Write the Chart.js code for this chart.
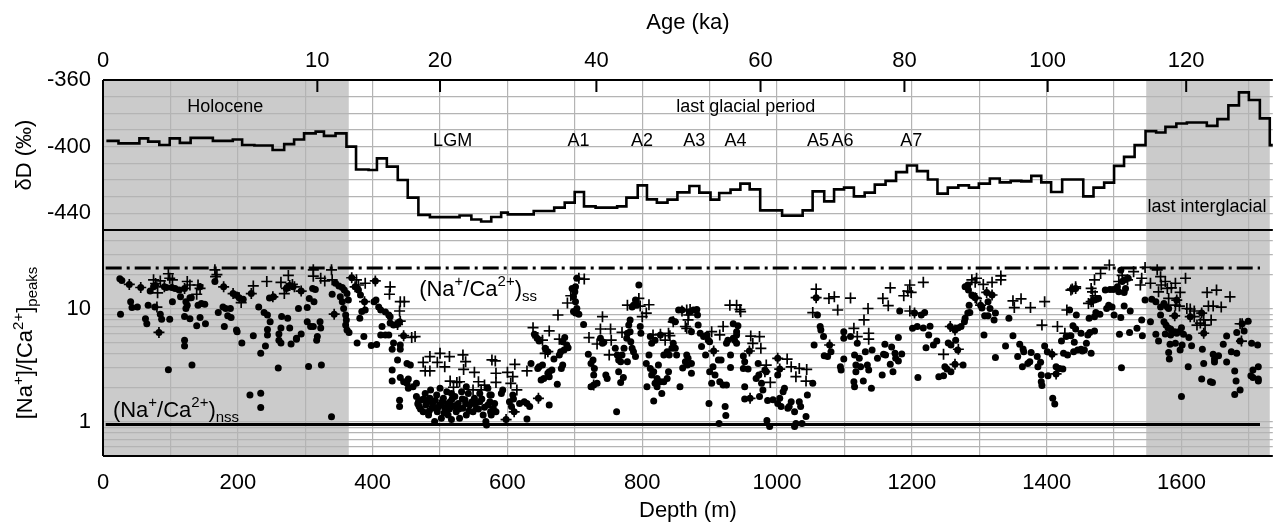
<!DOCTYPE html>
<html>
<head>
<meta charset="utf-8">
<title>δD and Na/Ca peak ratio versus depth</title>
<script src="https://cdn.jsdelivr.net/npm/chart.js"></script>
<style>
  html, body { margin: 0; padding: 0; background: #fff; }
  #wrap { width: 1280px; height: 525px; }
</style>
</head>
<body>
<div id="wrap"><canvas id="chart" width="1280" height="525"></canvas></div>
<script>
const FONT = '"Liberation Sans", Arial, Helvetica, sans-serif';

// depth axis (m)
const depthMin = 0, depthMax = 1735.5;
const depthTicks = [0, 100, 200, 300, 400, 500, 600, 700, 800, 900, 1000, 1100, 1200, 1300, 1400, 1500, 1600, 1700];
// age axis (ka) placed at the depth where each age falls
const ageLabels = [0, 10, 20, 40, 60, 80, 100, 120];
const ageDepths = [0, 318, 500, 732, 975.5, 1189, 1401.5, 1607];

const dDTicks = [-450, -440, -430, -420, -410, -400, -390, -380, -370, -360];
const ratioTicks = [0.5, 0.6, 0.7, 0.8, 0.9, 1, 2, 3, 4, 5, 6, 7, 8, 9, 10, 20, 30, 40, 50];

// interglacial shading (depth ranges)
const shadeRanges = [[0, 364.6], [1547.7, 1731]];

const periodLabels = [
  { text: 'Holocene', depth: 181.5, dD: -376.2 },
  { text: 'last glacial period', depth: 953.7, dD: -376.2 },
  { text: 'last interglacial', depth: 1638, dD: -436.4 }
];
const eventLabels = ['LGM', 'A1', 'A2', 'A3', 'A4', 'A5', 'A6', 'A7'];
const eventDepths = [518.7, 705.3, 799.7, 877.1, 938.3, 1060.6, 1097, 1199];
const eventDD = -396.7;

const ssRatio = 23, nssRatio = 0.95;
const refLineDepths = [4, 1716.5];

// δD (‰) steps: [start depth, value]
const deltaDSteps = [
  [5, -396.5], [23, -398], [54, -395], [67, -397], [83.5, -399], [99, -395], [114, -397.7], [130, -394.7],
  [163, -396.5], [192.6, -395.7], [206.4, -399], [224.6, -399.3], [251.6, -402], [268.8, -398.5], [283.5, -395.7],
  [298.3, -392], [315.5, -391], [327.8, -393.5], [345, -392], [361.2, -400], [375.4, -413.7], [394, -414],
  [406.4, -407], [421.1, -412], [437.3, -420], [452.1, -430.6], [467.9, -440.9], [485, -442.3], [529, -441.3],
  [546.5, -443.7], [561, -444.9], [576, -442.2], [590.7, -439.6], [600.6, -440.6], [639, -438.6], [669.4, -436.6],
  [685, -433.6], [699.8, -427.2], [713.6, -435.8], [730.8, -436.6], [762.8, -435.8], [776.5, -430.6], [793.3, -423.2],
  [807, -431.6], [821.7, -433.6], [837.5, -431.8], [852.2, -427.4], [870, -423.6], [884.7, -427.6], [901.3, -431.8],
  [914.2, -427.8], [931, -425.8], [945.6, -422.2], [959.4, -425.6], [975, -438.2], [1007.5, -441.4], [1038, -438.2],
  [1052.8, -426.8], [1070, -432.8], [1084.6, -425.6], [1099.4, -424.6], [1114, -429.8], [1130, -427.6], [1145, -422.8],
  [1161, -420.5], [1176.6, -415.3], [1192.8, -411.3], [1207.6, -414.7], [1223.8, -419.7], [1238, -428.2], [1253.3, -424.6],
  [1269, -423.2], [1284.7, -424.6], [1299.4, -422.2], [1315.7, -419.1], [1330.4, -421.4], [1346.6, -420.5], [1362.4, -420.8],
  [1377.2, -417.5], [1392, -421.4], [1406.6, -427.2], [1423, -419.7], [1454.3, -429.8], [1469.5, -424.6], [1485.3, -421.6],
  [1500, -411.5], [1514.8, -406.1], [1530.5, -399.1], [1546.7, -390.7], [1562.4, -391.5], [1576.2, -388.1], [1592.4, -386.1],
  [1608, -385.5], [1637.6, -387.5], [1653.3, -383.5], [1669.6, -375.2], [1685.3, -367.4], [1700, -372], [1716.3, -383],
  [1731, -399.1], [1736, -399.1]
];

// [Na+]/[Ca2+] peaks, dots: [depth, ratio]
const dotPoints = [
  [25,18.5],[28,17.9],[39,16.5],[26,9.0],[41,11.6],[43,10.3],[51,10.4],[56,15.5],[63,8.2],[65,7.4],[67,10.8],[70,14.4],
  [75,15.7],[78,16.1],[77,10.4],[85,9.0],[87,8.1],[83,6.2],[91,15.7],[94,15.5],[97,2.9],[99,8.1],[103,11.6],[102,15.5],
  [107,15.2],[113,14.7],[115,12.8],[121,15.2],[121,5.3],[121,4.7],[123,11.6],[125,10.8],[129,12.6],[131,12.6],[123,10.1],
  [121,8.6],[129,8.2],[132,3.2],[139,7.1],[141,10.8],[144,8.4],[146,11.2],[151,11],[144,15.7],[152,7.4],[166,17.5],
  [171,9.3],[179,15.7],[178,10.4],[182,10.1],[189,10.1],[180,7.0],[185,8.7],[190,8.4],[193,13.7],[198,13.3],[202,12.6],
  [198,6.5],[199,6.3],[206,5.0],[208,12.2],[218,1.73],[234,1.8],[234,1.34],[220,13.7],[223,5.8],[231,10.4],[234,4.05],
  [239,9.3],[244,8.85],[247,12.5],[241,4.7],[248,7.7],[244,6.6],[244,5.9],[253,12.8],[260,3.0],[261,6.0],[261,5.3],
  [264,5.0],[265,8.6],[264,6.8],[274,8.3],[277,6.8],[272,15.2],[277,16.1],[282,15.7],[279,4.9],[287,5.5],[290,10.1],
  [294,14.4],[303,10.3],[306,12.4],[313,11.6],[311,15.2],[315,14.9],[303,7.7],[308,7.0],[312,7.0],[322,7.7],[323,6.8],
  [318,5.7],[317,5.3],[294,6.0],[287,5.4],[305,3.1],[324,3.2],[339,1.11],[340,13.5],[343,9.0],[345,16.9],[350,16.0],
  [355,15.5],[358,14.7],[352,12.8],[355,11.6],[357,10.1],[360,8.85],[361,8.0],[360,7.2],[362,6.5],[365,6.2],[362,13.7],
  [364,12.0],[369,18.9],[374,15.7],[379,14.7],[382,13.3],[388,11.6],[389,9.8],[384,9.5],[381,8.3],[404,17.7],[402,11.6],
  [405,12.0],[409,10.4],[412,9.8],[387,5.7],[377,5.0],[398,4.75],[406,4.85],[414,7.0],[412,5.9],[419,5.9],[424,5.9],
  [419,9.4],[424,8.85],[426,8.55],[426,7.5],[431,7.2],[436,7.3],[440,7.7],[431,5.0],[429,4.4],[441,4.4],[441,4.8],
  [446,5.8],[437,3.54],[429,2.88],[429,2.3],[451,3.3],[456,3.19],[441,2.48],[446,2.27],[451,2.2],[453,2.4],[453,1.99],
  [440,1.56],[440,1.37],[460,2.05],[465,2.2],
  [465,1.68],[468,1.51],[469,1.37],[473,1.57],[475,1.23],[478,1.79],[479,1.41],[483,1.15],[485,1.62],[488,1.32],
  [490,1.51],[492,1.01],[495,1.73],[496,1.23],[500,1.41],[502,1.08],[505,1.62],[507,1.32],[510,1.85],[512,1.15],
  [515,1.51],[517,1.05],[519,1.37],[522,1.68],[524,1.23],[527,1.46],[529,1.08],[532,1.85],[534,1.32],[537,1.57],
  [539,1.15],[542,1.79],[544,1.41],[549,1.23],[551,1.62],[554,1.32],[559,1.51],[564,1.15],[568,1.01],[571,1.41],
  [574,1.73],[576,1.23],[486,1.92],[500,1.99],[517,1.79],[559,1.79],[539,2.05],[569,0.94],
  [467,1.45],[471,1.3],[476,1.6],[481,1.5],[484,1.25],[489,1.4],[493,1.55],[497,1.35],[503,1.5],[506,1.2],[511,1.45],
  [514,1.3],[518,1.6],[523,1.4],[528,1.3],[533,1.6],[538,1.45],[543,1.25],[547,1.5],[552,1.45],[557,1.3],[562,1.6],[566,1.35],
  [571,1.99],[576,1.73],[574,1.51],[579,1.32],[575,1.23],[581,1.46],[576,1.15],[593,1.92],[591,1.79],[583,1.23],
  [598,1.05],[603,1.51],[608,1.73],[609,1.6],[606,1.37],[610,1.23],[618,1.46],[625,1.51],[629,1.46],[633,1.37],
  [629,1.06],[635,3.3],[645,2.98],[647,3.08],[652,3.19],[646,1.62],[650,2.35],[654,2.43],[660,2.7],[662,2.79],
  [666,2.88],[662,2.52],[662,1.41],[674,2.16],[669,3.6],[677,3.92],[679,4.19],[684,4.34],[682,5.14],[685,5.6],
  [688,4.8],[690,4.55],[682,3.19],[680,2.98],[640,5.97],[644,5.5],[647,5.2],[656,4.49],[660,4.19],[696,15.2],
  [701,15.7],[703,18.7],[700,14.2],[698,12.8],[701,11.6],[703,10.1],[698,9.5],[701,9.2],[706,9.0],[713,7.3],
  [720,3.97],[724,3.3],[727,3.54],[729,2.98],[728,2.61],[724,2.05],[728,2.12],[733,2.2],[738,5.5],[741,4.97],
  [743,5.07],[746,2.61],[748,2.43],[762,1.23],[760,4.49],[763,3.92],[765,3.54],[768,3.42],[770,3.92],[765,2.79],
  [768,2.24],[772,2.47],[773,4.49],[777,5.5],[778,6.1],[780,7.2],[782,8.0],[785,10.4],[787,10.8],[790,12.0],
  [792,10.8],[782,6.3],[783,5.14],[787,4.19],[790,3.79],[778,3.42],[785,4.49],[797,7.0],[798,6.1],[795,16.3],
  [806,3.3],[810,3.92],[812,2.98],[814,2.61],[817,2.79],[819,2.2],[822,2.43],[824,3.19],[807,2.05],[817,1.53],
  [822,2.05],[827,2.27],[829,1.79],[832,2.27],[837,2.43],[839,2.79],[812,5.7],[814,4.97],[819,5.3],[827,5.89],
  [832,3.92],[837,4.19],[840,3.92],[844,4.49],[846,4.97],[849,4.49],[851,3.92],[856,2.05],[854,9.8],[859,9.8],
  [844,8.0],[849,7.7],
  [866,3.92],[868,3.66],[864,3.42],[867,3.19],[873,3.3],[873,2.7],[860,3.0],[871,9.47],[876,9.8],[881,9.9],[882,8.85],
  [883,7.22],[873,6.3],[886,6.1],[891,5.7],[896,5.89],[898,5.3],[888,4.65],[894,3.92],[906,4.25],[900,5.14],[913,3.54],
  [917,3.54],[905,3.08],[900,2.79],[908,2.61],[903,2.2],[915,2.27],[920,2.12],[925,2.12],[899,1.46],[923,1.37],
  [924,1.14],[914,0.97],[925,4.97],[927,5.3],[935,5.5],[937,5.3],[940,5.89],[940,6.3],[942,7.1],[935,7.4],[931,3.92],
  [931,3.04],[940,4.97],[950,3.84],[952,3.42],[950,2.98],[957,2.94],[959,4.25],[952,2.05],[952,1.6],[960,1.62],
  [974,1.68],[969,2.43],[973,2.61],[977,2.2],[979,1.92],[972,3.3],[982,2.88],[984,2.79],[986,1.55],[994,1.57],
  [985,1.03],[989,0.91],[1001,3.66],[1004,2.94],[1001,2.61],[1004,1.62],[1001,1.46],[1006,1.37],[1011,1.99],
  [1009,1.85],[1016,1.32],[1021,1.51],[1018,1.37],[1026,1.23],[1026,0.91],[1028,0.97],[1033,1.51],[1035,1.37],
  [1037,0.97],[1045,1.73],[1043,1.12],[1053,2.2],[1055,4.8],[1060,8.85],[1064,7.0],[1065,6.5],[1069,5.7],[1070,3.86],
  [1078,4.8],[1080,4.19],[1058,12.6],[1075,3.79],[1099,6.3],[1099,5.5],[1099,3.6],[1094,3.08],[1095,2.88],[1109,5.7],
  [1115,3.92],[1117,3.19],[1117,2.79],[1114,2.27],[1115,2.05],[1122,3.66],[1124,3.08],[1128,2.3],[1131,4.19],
  [1134,3.19],[1136,2.88],[1140,1.99],[1141,4.34],[1149,3.66],[1119,4.97],
  [1156,2.61],[1158,3.97],[1161,3.92],[1160,4.87],[1168,3.24],[1172,2.79],[1170,4.6],[1175,4.05],[1176,3.66],
  [1180,3.47],[1185,4.0],[1180,5.58],[1182,9.6],[1201,6.74],[1208,7.0],[1217,6.8],[1227,7.05],[1225,5.89],[1237,5.2],
  [1232,4.8],[1221,4.55],[1204,9.2],[1214,8.85],[1219,9.3],[1209,2.47],[1240,2.52],[1247,2.57],[1249,3.08],
  [1252,2.94],[1258,2.79],[1264,3.24],[1276,3.19],[1254,5.0],[1258,4.8],[1257,7.0],[1264,6.5],[1268,6.8],[1273,7.0],
  [1265,5.3],[1268,4.34],[1278,7.72],[1279,8.27],[1283,9.2],[1286,9.3],[1285,10.8],[1279,15.7],[1284,14.7],
  [1289,13.3],[1294,12.6],[1283,16.3],[1302,10.8],[1304,10.2],[1308,8.7],[1313,8.7],[1316,10.1],[1313,11.6],
  [1311,14.0],[1319,13.3],[1307,5.89],[1322,8.0],[1324,9.2],[1324,3.73],[1339,4.7],[1344,8.27],[1350,5.8],
  [1360,4.87],[1365,4.43],[1366,4.19],[1357,3.79],[1364,3.08],[1372,3.3],[1375,3.42],[1377,4.13],[1386,3.79],
  [1387,3.08],[1391,3.37],[1392,2.61],[1392,2.27],[1393,2.1],[1397,4.7],[1401,4.19],[1408,3.97],[1414,3.08],
  [1402,2.57],[1414,2.66],[1419,2.98],[1424,2.94],[1425,4.05],[1431,3.92],[1422,5.2],[1429,5.7],[1436,5.8],
  [1439,7.1],[1409,1.62],[1412,1.44],
  [1434,9.8],[1443,6.65],[1441,5.07],[1451,6.1],[1459,4.97],[1461,5.89],[1464,6.2],[1471,6.4],[1440,4.19],
  [1446,4.34],[1451,4.4],[1453,4.25],[1456,4.34],[1466,4.05],[1444,8.85],[1463,8.27],[1471,8.55],[1473,9.3],
  [1479,9.0],[1438,15],[1443,15.2],[1466,11.6],[1471,12.0],[1477,12.4],[1487,14.7],[1494,14.9],[1499,14.9],
  [1505,15.7],[1507,14.2],[1515,14.0],[1517,15.2],[1512,17.5],[1510,22],[1516,18.1],[1521,18.7],[1489,10.1],
  [1492,10.8],[1497,10.4],[1500,8.85],[1510,8.4],[1515,10.6],[1524,9.6],[1508,5.97],[1523,6.2],[1534,6.74],
  [1541,8.0],[1542,5.8],[1511,3.02],[1546,12.0],[1556,12.2],[1562,11.6],[1569,10.4],[1574,11.2],[1579,10.4],
  [1581,10.1],[1554,7.7],[1562,5.97],[1566,5.2],[1569,8.85],[1574,7.7],[1577,7.2],[1580,6.83],[1584,6.65],
  [1576,6.0],[1584,5.89],[1590,6.3],[1593,6.1],[1600,6.83],[1603,5.97],[1611,5.6],[1596,6.3],[1590,8.7],[1593,12.0],
  [1583,4.87],[1581,4.13],[1582,3.6],[1591,4.97],[1598,4.34],[1601,4.8],[1615,4.73],[1600,1.68],[1610,3.08],
  [1613,8.55],[1630,9.2],[1633,6.1],[1631,4.4],[1633,3.3],[1630,2.4],[1643,2.27],[1646,2.24],[1647,3.97],[1649,3.6],
  [1649,3.4],[1655,3.86],[1667,3.4],[1662,4.87],[1667,5.76],[1674,4.19],[1682,4.05],[1679,2.83],[1681,2.3],
  [1679,1.75],[1687,1.92],[1682,6.2],[1693,6.4],[1699,7.8],[1690,7.4],[1687,5.2],[1704,4.97],[1713,4.8],[1706,2.88],
  [1714,3.08],[1703,2.57],[1706,2.47],[1714,2.4],[1714,2.3]
];

// [Na+]/[Ca2+] peaks, crosses: [depth, ratio]
const plusPoints = [
  [75,18.1],[78,16.8],[85,17.7],[81,13.9],[80,10.4],[97,20.5],[99,18.7],[103,18.1],[125,17.5],[129,16.3],[141,16.3],
  [144,15.2],[139,13.5],[166,22.2],[167,19.3],[169,20.1],[205,11.4],[223,16],[243,17.5],[252,12.8],[264,17.2],
  [275,19.8],[281,16.5],[269,13.7],
  [39,16.5],[56,15.5],[83,6.2],[91,15.7],[121,15.2],[179,15.7],[193,13.7],[202,12.6],[220,13.7],[272,15.2],[277,16.1],
  [284,15.7],[294,14.4],[343,9.0],[312,22.2],[312,19.5],[323,18.7],[329,17.7],[339,22.2],[340,18.1],
  [369,18.9],[376,18.1],[379,16.3],[389,16.9],[374,15.7],[388,11.6],[404,17.7],[426,15.7],[425,13.5],[441,11.6],
  [447,11.6],[440,9.6],[437,7.3],[441,7.8],[446,5.8],[458,5.6],[463,5.7],[475,3.37],[485,3.79],[478,2.83],[485,2.83],
  [500,4.05],[496,3.37],[507,3.08],[514,3.79],[534,3.92],[538,3.42],[535,2.92],[551,2.75],[529,2.27],[515,2.3],
  [520,2.03],[525,2.24],[557,2.27],[566,2.12],[577,3.54],[561,1.92],[549,1.92],
  [582,3.47],[583,2.7],[583,2.24],[600,2.75],[605,2.2],[611,3.24],[608,2.52],[614,1.92],[629,2.83],[638,6.83],
  [645,5.58],[652,5.3],[662,6.4],[656,4.05],[677,5.4],[675,8.85],[689,11.3],[694,13.1],[714,18.4],[706,18.7],
  [721,5.58],[738,6.65],[741,8.55],[733,4.9],[753,6.65],[754,5.3],[770,6.2],[751,3.92],[778,10.8],[795,12.4],
  [797,10.6],[810,10.9],[806,9.2],[800,8.55],[816,5.89],[827,5.97],[834,5.3],[839,6.1],[841,5.8],[846,7.7],[859,9.6],
  [660,4.19],[598,1.05],[610,1.23],[646,1.62],[728,2.12],
  [866,9.8],[871,9.9],[869,8.85],[868,8.0],[864,7.0],[866,6.74],[903,6.3],[915,5.89],[920,7.0],[930,10.8],[940,10.8],
  [946,9.47],[945,9.9],[961,5.76],[964,4.97],[974,5.7],[976,4.49],[984,3.19],[982,2.79],[990,2.24],[1015,3.6],
  [1021,3.08],[1028,2.52],[1033,2.98],[1044,2.92],[1043,2.3],[1058,15],[1053,9.3],[1077,12.4],[1085,12.8],[1090,9.8],
  [1109,12.5],[1114,6.74],[1119,5.7],[1129,8.0],[1135,10.1],[1136,6.1],[1136,5.4],
  [906,4.25],[959,4.25],[960,1.62],[1001,3.66],[1004,2.94],[1078,4.8],[1058,12.6],
  [1157,12.4],[1165,10.7],[1168,15.4],[1188,13.1],[1194,14.4],[1197,16.3],[1199,14],[1217,17.2],[1197,9.6],
  [1247,3.97],[1269,4.4],[1289,18.1],[1296,18.7],[1294,17.2],[1306,16.5],[1319,17.2],[1332,19.6],[1332,18.1],
  [1296,12.4],[1350,11.8],[1352,10.3],[1362,12.3],[1376,10.3],[1397,11.6],[1393,7.2],[1416,7.0],[1427,6.1],
  [1430,9.8],[1436,14.7],
  [1204,9.2],[1264,3.24],[1257,7.0],[1264,6.5],[1294,12.6],[1302,10.8],[1311,14.0],[1319,13.3],[1408,3.97],[1414,2.66],
  [1443,15.7],[1468,14.2],[1469,11.6],[1472,13.1],[1462,11.2],[1466,15.2],[1471,18.1],[1480,20.6],[1493,24.5],
  [1507,17.5],[1512,19.8],[1520,18.1],[1529,21.4],[1541,18.7],[1539,16.3],[1546,23.3],[1554,16.9],[1564,22.2],
  [1569,19.3],[1570,16.3],[1576,17.5],[1579,15.2],[1585,15.4],[1566,14.2],[1591,16.9],[1598,14],[1606,18.7],
  [1581,12.4],[1591,10.8],[1597,10.6],[1608,10.1],[1613,10],[1619,9.6],[1623,7.2],[1628,7.5],[1633,8.0],[1635,7.2],
  [1644,8.0],[1619,8.55],[1638,14],[1652,14.7],[1672,12.8],[1640,10.6],[1647,10.6],[1659,10.4],[1689,5.2],[1687,7.4],
  [1438,15],[1443,15.2],[1466,11.6],[1590,8.7],[1593,12.0],[1613,8.55],[1630,9.2],[1633,6.1],[1690,7.4]
];

const toXY = arr => arr.map(p => ({ x: p[0], y: p[1] }));
const GRID = '#b4b4b4';

// text with super/subscripts, drawn left to right from (x, y) baseline
function drawRich(ctx, parts, x, y, big, small) {
  let cx = x;
  parts.forEach(([t, kind]) => {
    ctx.font = (kind ? small : big) + 'px ' + FONT;
    const dy = kind === 'sup' ? -9.5 : kind === 'sub' ? 5 : 0;
    ctx.fillText(t, cx, y + dy);
    cx += ctx.measureText(t).width;
  });
}
function richWidth(ctx, parts, big, small) {
  let w = 0;
  parts.forEach(([t, kind]) => {
    ctx.font = (kind ? small : big) + 'px ' + FONT;
    w += ctx.measureText(t).width;
  });
  return w;
}

const ssParts = [['(Na'], ['+', 'sup'], ['/Ca'], ['2+', 'sup'], [')'], ['ss', 'sub']];
const nssParts = [['(Na'], ['+', 'sup'], ['/Ca'], ['2+', 'sup'], [')'], ['nss', 'sub']];
const ratioTitle = [['[Na'], ['+', 'sup'], [']/[Ca'], ['2+', 'sup'], [']'], ['peaks', 'sub']];
const ssLabelPos = { depth: 469, ratio: 13.15 };
const nssLabelPos = { depth: 14.7, ratio: 1.11 };

const decorations = {
  id: 'decorations',
  beforeDraw(chart) {
    const { ctx, chartArea: a, scales: { x } } = chart;
    ctx.save();
    ctx.fillStyle = '#cbcbcb';
    shadeRanges.forEach(([d0, d1]) => {
      const p0 = x.getPixelForValue(d0), p1 = x.getPixelForValue(d1);
      ctx.fillRect(p0, a.top, p1 - p0, a.bottom - a.top);
    });
    ctx.restore();
  },
  afterDraw(chart) {
    const { ctx, chartArea: a, scales: { x, x2, yD, yR } } = chart;
    ctx.save();
    // frame + panel separator
    ctx.strokeStyle = '#000';
    ctx.lineWidth = 2;
    ctx.beginPath();
    ctx.moveTo(a.left, a.top); ctx.lineTo(a.right, a.top);
    ctx.moveTo(a.left, yD.bottom); ctx.lineTo(a.right, yD.bottom);
    ctx.moveTo(a.left, a.bottom); ctx.lineTo(a.right, a.bottom);
    ctx.moveTo(a.left, a.top); ctx.lineTo(a.left, a.bottom);
    ctx.stroke();
    // inward age ticks
    ctx.beginPath();
    ageDepths.forEach(d => {
      const px = x2.getPixelForValue(d);
      ctx.moveTo(px, a.top); ctx.lineTo(px, a.top + 12);
    });
    ctx.stroke();

    ctx.fillStyle = '#000';
    ctx.textAlign = 'center';
    ctx.textBaseline = 'middle';
    ctx.font = '18px ' + FONT;
    periodLabels.forEach(l => ctx.fillText(l.text, x.getPixelForValue(l.depth), yD.getPixelForValue(l.dD)));
    eventLabels.forEach((t, i) => ctx.fillText(t, x.getPixelForValue(eventDepths[i]), yD.getPixelForValue(eventDD)));

    ctx.textAlign = 'left';
    ctx.textBaseline = 'alphabetic';
    drawRich(ctx, ssParts, x.getPixelForValue(ssLabelPos.depth), yR.getPixelForValue(ssLabelPos.ratio), 22, 15);
    drawRich(ctx, nssParts, x.getPixelForValue(nssLabelPos.depth), yR.getPixelForValue(nssLabelPos.ratio), 22, 15);

    // rotated title of the ratio axis
    const w = richWidth(ctx, ratioTitle, 22, 15);
    ctx.translate(32, (yR.top + yR.bottom) / 2);
    ctx.rotate(-Math.PI / 2);
    drawRich(ctx, ratioTitle, -w / 2, 0, 22, 15);
    ctx.restore();
  }
};

const tickFont = { family: FONT, size: 22 };

new Chart(document.getElementById('chart'), {
  type: 'scatter',
  data: {
    datasets: [
      { label: 'δD', type: 'line', data: toXY(deltaDSteps), yAxisID: 'yD', stepped: true,
        borderColor: '#000', borderWidth: 2.6, pointRadius: 0, fill: false },
      { label: 'ss', type: 'line', data: refLineDepths.map(d => ({ x: d, y: ssRatio })), yAxisID: 'yR',
        borderColor: '#000', borderWidth: 3, borderDash: [16, 5, 3, 5], pointRadius: 0, fill: false },
      { label: 'nss', type: 'line', data: refLineDepths.map(d => ({ x: d, y: nssRatio })), yAxisID: 'yR',
        borderColor: '#000', borderWidth: 3, pointRadius: 0, fill: false },
      { label: 'crosses', data: toXY(plusPoints), yAxisID: 'yR', pointStyle: 'cross',
        pointRadius: 5.5, borderWidth: 1.7, borderColor: '#000' },
      { label: 'dots', data: toXY(dotPoints), yAxisID: 'yR', pointStyle: 'circle',
        pointRadius: 3.5, borderWidth: 0, backgroundColor: '#000' }
    ]
  },
  options: {
    responsive: false,
    animation: false,
    devicePixelRatio: 1,
    events: [],
    layout: { padding: 0 },
    plugins: { legend: { display: false }, tooltip: { enabled: false } },
    scales: {
      x: {
        type: 'linear', position: 'bottom', min: depthMin, max: depthMax,
        afterBuildTicks: s => { s.ticks = depthTicks.map(v => ({ value: v })); },
        afterFit: s => { s.height = 69; },
        grid: { color: GRID, lineWidth: 1.2, drawTicks: false },
        border: { display: false },
        ticks: { autoSkip: false, maxRotation: 0, minRotation: 0, padding: 14, color: '#000', font: tickFont,
                 callback: v => (v % 200 === 0 ? String(v) : '') },
        title: { display: true, text: 'Depth (m)', color: '#000', font: tickFont, padding: { top: 0, bottom: 1 } }
      },
      x2: {
        type: 'linear', position: 'top', min: depthMin, max: depthMax,
        afterBuildTicks: s => { s.ticks = ageDepths.map(v => ({ value: v })); },
        afterFit: s => { s.height = 80; },
        grid: { display: false, drawTicks: false },
        border: { display: false },
        ticks: { autoSkip: false, maxRotation: 0, minRotation: 0, padding: 6, color: '#000', font: tickFont,
                 callback: (v, i) => String(ageLabels[i]) },
        title: { display: true, text: 'Age (ka)', color: '#000', font: tickFont, padding: { top: 10, bottom: 0 } }
      },
      // left boxes in a stack are laid out last-defined on top, so the lower panel comes first
      yR: {
        type: 'logarithmic', position: 'left', stack: 'panels', stackWeight: 226, min: 0.5, max: 50,
        afterBuildTicks: s => { s.ticks = ratioTicks.map(v => ({ value: v })); },
        afterFit: s => { s.width = 103; },
        grid: { color: GRID, lineWidth: 1.2, drawTicks: false },
        border: { display: false },
        ticks: { autoSkip: false, padding: 12, color: '#000', font: tickFont,
                 callback: v => (v === 1 || v === 10 ? String(v) : '') }
      },
      yD: {
        type: 'linear', position: 'left', stack: 'panels', stackWeight: 150, min: -450, max: -360,
        afterBuildTicks: s => { s.ticks = dDTicks.map(v => ({ value: v })); },
        afterFit: s => { s.width = 103; },
        grid: { color: GRID, lineWidth: 1.2, drawTicks: false },
        border: { display: false },
        ticks: { autoSkip: false, padding: 12, color: '#000', font: tickFont,
                 callback: v => (v % 40 === 0 ? String(v) : '') },
        title: { display: true, text: 'δD (‰)', color: '#000', font: tickFont, padding: { top: 12, bottom: 0 } }
      }
    }
  },
  plugins: [decorations]
});
</script>
</body>
</html>
